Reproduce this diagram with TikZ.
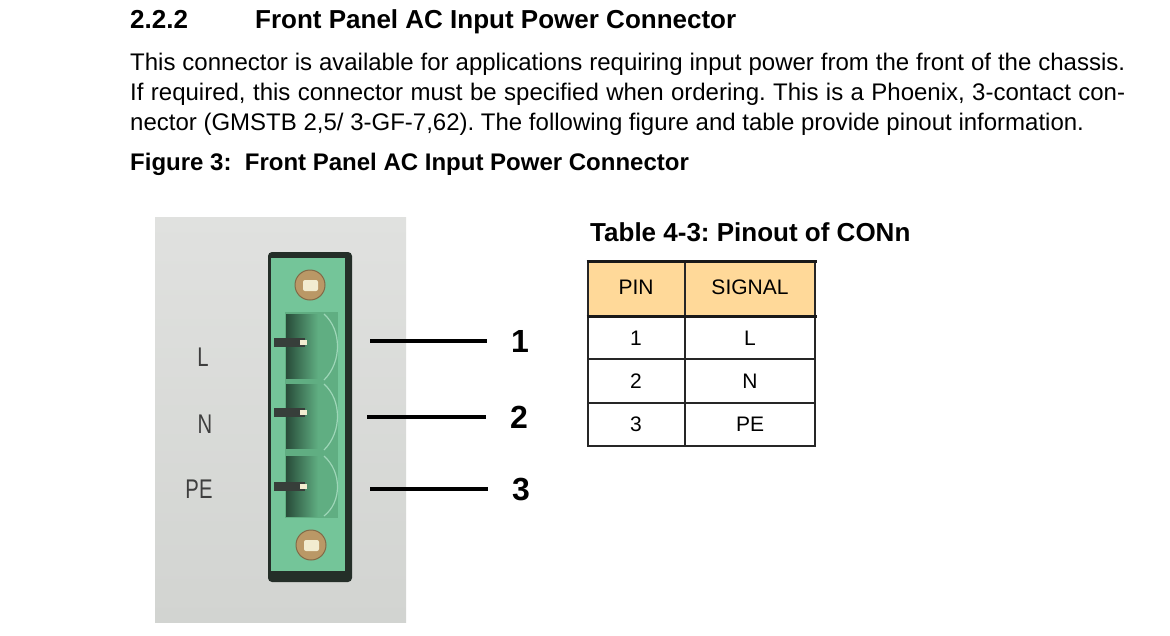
\documentclass[tikz,border=0pt]{standalone}
\usepackage{fontspec}
\setmainfont{Liberation Sans}
\usepackage{xcolor}
\usepackage{tikz}
\definecolor{panelgray}{RGB}{224,225,223}
\definecolor{panelshade}{RGB}{210,212,209}
\definecolor{conngreen}{RGB}{116,197,153}
\definecolor{sockgreen}{RGB}{96,174,130}
\definecolor{sockdark}{RGB}{40,76,57}
\definecolor{connframe}{RGB}{36,46,40}
\definecolor{pinmetal}{RGB}{55,62,58}
\definecolor{brass}{RGB}{186,152,102}
\definecolor{brasslight}{RGB}{242,236,208}
\definecolor{headfill}{RGB}{255,217,153}
\definecolor{labelgray}{RGB}{62,62,62}
\frenchspacing

\begin{document}
\begin{tikzpicture}[x=1pt, y=-1pt, every node/.style={inner sep=0pt},
    bodytext/.style={anchor=base west, font=\fontsize{24}{30}\selectfont},
    headtext/.style={anchor=base west, font=\fontsize{26}{30}\selectfont\bfseries},
    captext/.style={anchor=base west, font=\fontsize{24}{30}\selectfont\bfseries},
    panellabel/.style={font=\fontsize{27}{30}\selectfont, text=labelgray, xscale=0.75},
    pinnum/.style={anchor=west, font=\fontsize{32}{36}\selectfont\bfseries},
    leader/.style={line width=4pt, shorten >=24pt},
    celltext/.style={font=\fontsize{21}{25}\selectfont},
    thinrule/.style={line width=1.2pt, draw=black!85},
    thickrule/.style={line width=3pt, draw=black!90}]
    \useasboundingbox (0,0) rectangle (1170,635);
    \fill[white] (0,0) rectangle (1170,635);
    \node[headtext] (secnum) at (130,28) {2.2.2};
    \node[headtext] (sectitle) at (255,28) {Front Panel AC Input Power Connector};
    \node[bodytext] (para1) at (130,70) {\makebox[995pt][s]{This connector is available for applications requiring input power from the front of the chassis.}};
    \node[bodytext] (para2) at (130,100) {\makebox[995pt][s]{If required, this connector must be specified when ordering. This is a Phoenix, 3-contact con-}};
    \node[bodytext] (para3) at (130,130) {nector (GMSTB 2,5/ 3-GF-7,62). The following figure and table provide pinout information.};
    \node[captext] (figcap) at (130,170) {Figure 3:\ \ Front Panel AC Input Power Connector};
    \shade[top color=panelgray, bottom color=panelshade] (155,217) rectangle (406,622);
    \fill[connframe, rounded corners=4pt] (268,252) rectangle (352,582);
    \fill[conngreen] (271,258) rectangle (345,571);
    \fill[sockgreen] (285,312) rectangle (338,518);
    \shade[left color=sockdark, right color=sockgreen] (286,314) rectangle (318,378);
    \shade[left color=sockdark, right color=sockgreen] (286,384) rectangle (318,448);
    \shade[left color=sockdark, right color=sockgreen] (286,456) rectangle (318,516);
    \draw[conngreen!70!white, line width=1.2pt] (324,314) .. controls (342,330) and (342,362) .. (324,380);
    \draw[conngreen!70!white, line width=1.2pt] (324,384) .. controls (342,400) and (342,432) .. (324,450);
    \draw[conngreen!70!white, line width=1.2pt] (324,456) .. controls (342,472) and (342,502) .. (324,516);
    \fill[pinmetal] (274,338) rectangle (305,347);
    \fill[pinmetal] (274,408) rectangle (305,417);
    \fill[pinmetal] (274,482) rectangle (305,491);
    \fill[brasslight] (300,340) rectangle (307,345);
    \fill[brasslight] (300,410) rectangle (307,415);
    \fill[brasslight] (300,484) rectangle (307,489);
    \fill[brass] (310,285) circle (15pt);
    \draw[brass!70!black, line width=1pt] (310,285) circle (15pt);
    \fill[brasslight, rounded corners=2pt] (303,280) rectangle (318,291);
    \fill[brass] (311,545) circle (15pt);
    \draw[brass!70!black, line width=1pt] (311,545) circle (15pt);
    \fill[brasslight, rounded corners=2pt] (304,540) rectangle (319,551);
    \node[panellabel] (lblL) at (203,357) {L};
    \node[panellabel] (lblN) at (205,424) {N};
    \node[panellabel] (lblPE) at (199,489) {PE};
    \coordinate (p1) at (370,341);
    \coordinate (p2) at (367,417);
    \coordinate (p3) at (370,489);
    \node[pinnum] (n1) at (511,341) {1};
    \node[pinnum] (n2) at (510,417) {2};
    \node[pinnum] (n3) at (512,489) {3};
    \draw [leader] (p1) to (n1.west);
    \draw [leader] (p2) to (n2.west);
    \draw [leader] (p3) to (n3.west);
    \node[headtext] (tabtitle) at (590,241) {Table 4-3: Pinout of CONn};
    \fill[headfill] (588,262) rectangle (815,316);
    \draw[thinrule] (588,261) -- (588,446) -- (815,446) -- (815,261);
    \draw[thinrule] (685,261) -- (685,446);
    \draw[thinrule] (588,359) -- (815,359);
    \draw[thinrule] (588,403) -- (815,403);
    \draw[thickrule] (586.5,261) -- (816.5,261);
    \draw[thickrule] (586.5,316) -- (816.5,316);
    \node[celltext] (hpin) at (636,287) {PIN};
    \node[celltext] (hsig) at (750,287) {SIGNAL};
    \node[celltext] (pin1) at (636,338) {1};
    \node[celltext] (sig1) at (750,338) {L};
    \node[celltext] (pin2) at (636,381) {2};
    \node[celltext] (sig2) at (750,381) {N};
    \node[celltext] (pin3) at (636,424) {3};
    \node[celltext] (sig3) at (750,424) {PE};
\end{tikzpicture}
\end{document}
